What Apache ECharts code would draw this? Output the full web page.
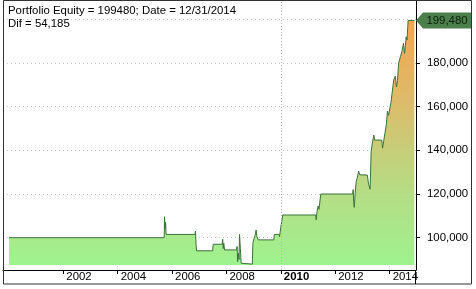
<!DOCTYPE html>
<html>
<head>
<meta charset="utf-8">
<script src="https://cdn.jsdelivr.net/npm/echarts@6/dist/echarts.min.js"></script>
<style>
html,body{margin:0;padding:0;background:#fff;}
#c{width:476px;height:289px;}
</style>
</head>
<body>
<div id="c"></div>
<script>
// ---- data ----
var years = [
  2000.00, 2005.71, 2005.72, 2005.74, 2005.76, 2005.78, 2006.84, 2006.86, 2006.88, 2006.90,
  2007.49, 2007.51, 2007.84, 2007.86, 2007.88, 2007.90, 2007.93, 2008.37, 2008.39, 2008.41,
  2008.43, 2008.46, 2008.48, 2008.51, 2008.54, 2008.57, 2008.95, 2008.97, 2009.01, 2009.05,
  2009.09, 2009.12, 2009.17, 2009.74, 2009.76, 2009.93, 2009.95, 2010.00, 2010.07, 2011.28,
  2011.30, 2011.33, 2011.37, 2011.40, 2011.47, 2012.64, 2012.66, 2012.68, 2012.70, 2012.73,
  2012.77, 2012.80, 2012.86, 2012.90, 2012.95, 2013.18, 2013.22, 2013.28, 2013.30, 2013.32,
  2013.36, 2013.42, 2013.45, 2013.71, 2013.74, 2013.77, 2013.83, 2013.88, 2013.92, 2013.96,
  2014.05, 2014.09, 2014.15, 2014.21, 2014.25, 2014.29, 2014.33, 2014.40, 2014.45, 2014.51,
  2014.55, 2014.58, 2014.61, 2014.64, 2014.68, 2014.91
];
var equity = [
  100000, 100000, 109600, 104000, 107000, 101500, 101500, 103000, 97000, 94000,
  94000, 97000, 97000, 99300, 95000, 97500, 94400, 94400, 96000, 89000,
  93000, 90000, 101500, 95000, 88300, 87900, 87900, 97400, 99500, 101000,
  103500, 100500, 99000, 99000, 101500, 101500, 100500, 105000, 110400, 110400,
  108200, 112000, 114500, 113000, 120000, 120000, 122000, 116000, 113900, 120000,
  125600, 127000, 130500, 128800, 128700, 128700, 125000, 122200, 130000, 139400,
  143000, 147000, 144700, 144700, 141000, 140500, 148000, 152000, 158000, 156000,
  162000, 166100, 172200, 174000, 169000, 172000, 179900, 183000, 185200, 189000,
  184400, 188000, 192000, 190500, 199480, 199480
];
var xTickYears = [2002, 2004, 2006, 2008, 2010, 2012, 2014];
var yGridValues = [100000, 120000, 140000, 160000, 180000, 200000];
var yLabelValues = [100000, 120000, 140000, 160000, 180000];
var lastValue = 199480;
var lastValueText = '199,480';
var headerLine1 = 'Portfolio Equity = 199480; Date = 12/31/2014';
var headerLine2 = 'Dif = 54,185';
var markedYear = 2010;

var points = years.map(function (y, i) { return [y, equity[i]]; });

var FONT = 'Liberation Sans, Arial, sans-serif';
var FS = 11.4;
var xMin = 1999.78, xMax = 2014.97;
var yMin = 85209, yMax = 208385;

var chart = echarts.init(document.getElementById('c'), null, {renderer: 'canvas'});
chart.setOption({
  animation: false,
  backgroundColor: '#ffffff',
  title: {
    text: headerLine1 + '\n' + headerLine2,
    left: 8, top: 4, padding: 0,
    textStyle: {fontFamily: FONT, fontSize: FS, fontWeight: 'normal', color: '#000', lineHeight: 13}
  },
  grid: {left: 3, right: 60, top: 1, bottom: 19, containLabel: false},
  xAxis: {
    type: 'value', min: xMin, max: xMax, position: 'bottom',
    axisLine: {show: true, onZero: false, lineStyle: {color: '#000', width: 1}},
    axisTick: {show: true, customValues: xTickYears, length: 4, lineStyle: {color: '#000'}},
    axisLabel: {
      customValues: xTickYears, margin: 1, align: 'left', padding: [0, 0, 0, 3],
      fontFamily: FONT, fontSize: FS, color: '#000',
      formatter: function (v) { return v === markedYear ? '{b|' + v + '}' : '{n|' + v + '}'; },
      rich: {
        b: {fontFamily: FONT, fontSize: FS, fontWeight: 'bold', color: '#000'},
        n: {fontFamily: FONT, fontSize: FS, color: '#000'}
      }
    },
    splitLine: {show: false}
  },
  yAxis: {
    type: 'value', min: yMin, max: yMax, position: 'right',
    axisLine: {show: true, onZero: false, lineStyle: {color: '#000', width: 1}},
    axisTick: {show: true, customValues: yGridValues, length: 4, lineStyle: {color: '#000'}},
    axisLabel: {
      customValues: yLabelValues, margin: 11, fontFamily: FONT, fontSize: FS, color: '#000',
      formatter: function (v) { return echarts.format.addCommas(v); }
    },
    splitLine: {show: true, lineStyle: {color: '#c4c4c4', type: [1, 3], width: 1}}
  },
  series: [{
    type: 'line',
    data: points,
    showSymbol: false,
    symbol: 'none',
    lineStyle: {color: '#3a733a', width: 1},
    areaStyle: {
      origin: 87500,
      opacity: 1,
      color: new echarts.graphic.LinearGradient(0, 0, 0, 1, [
        {offset: 0, color: '#f5a54c'},
        {offset: 0.35, color: '#dbbd6c'},
        {offset: 0.52, color: '#c8cd78'},
        {offset: 0.72, color: '#b4de86'},
        {offset: 1, color: '#9ff28f'}
      ])
    },
    markLine: {
      silent: true, symbol: 'none', animation: false,
      label: {show: false},
      lineStyle: {color: '#b8b8b8', type: [1, 2], width: 1},
      data: [{xAxis: markedYear}]
    },
    markPoint: {
      silent: true, animation: false,
      data: [{coord: [xMax, lastValue]}],
      symbol: 'path://M0,8L7,0L56,0L56,16L7,16Z',
      symbolKeepAspect: false,
      symbolSize: [56, 16],
      symbolOffset: [28, 0],
      itemStyle: {color: '#4b7f4b'},
      label: {
        show: true, position: 'inside', offset: [3, 0],
        formatter: lastValueText, fontFamily: FONT, fontSize: FS, color: '#0c1f0c'
      }
    }
  }],
  graphic: [
    {type: 'rect', silent: true, z: 100,
     shape: {x: 3.5, y: 0.5, width: 468, height: 283.5},
     style: {fill: 'none', stroke: '#333', lineWidth: 1}},
    {type: 'line', silent: true, z: 100,
     shape: {x1: 415.5, y1: 270, x2: 415.5, y2: 284},
     style: {stroke: '#000', lineWidth: 1}}
  ]
});
</script>
</body>
</html>
